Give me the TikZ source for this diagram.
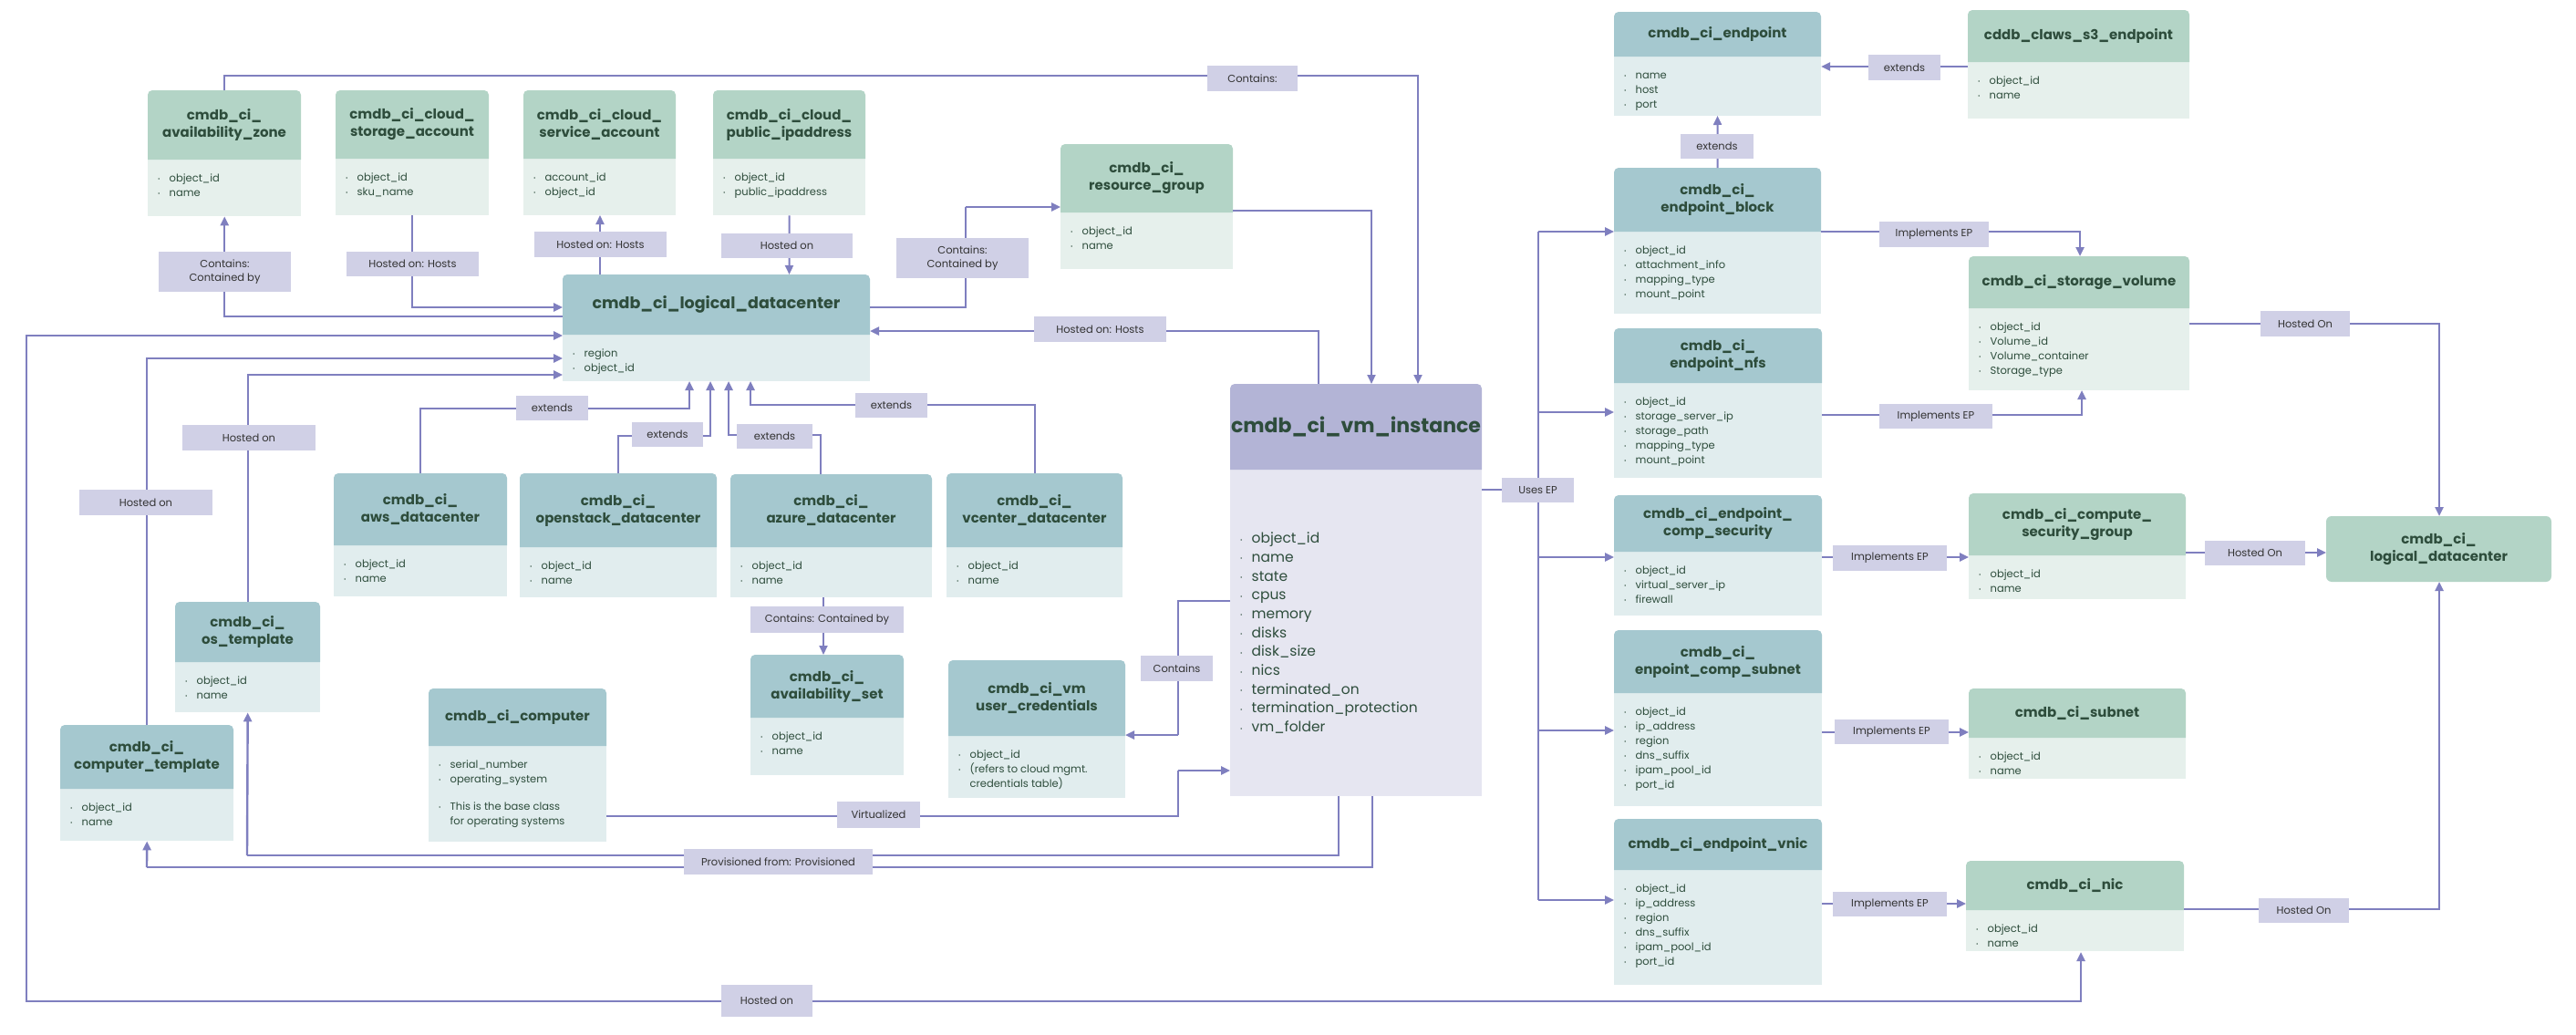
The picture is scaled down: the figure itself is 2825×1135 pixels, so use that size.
\documentclass[tikz,border=0pt]{standalone}
\usepackage{fontspec}
\setmainfont{Poppins}
\usetikzlibrary{arrows.meta}
\definecolor{lc}{HTML}{7F7FBF}
\definecolor{labc}{HTML}{D0D0E6}
\definecolor{tealh}{HTML}{A5C8CF}
\definecolor{tealb}{HTML}{E1EDEE}
\definecolor{greenh}{HTML}{B3D4C6}
\definecolor{greenb}{HTML}{E6F0EC}
\definecolor{vmh}{HTML}{B3B4D6}
\definecolor{vmb}{HTML}{E6E6F1}
\definecolor{txt}{HTML}{2E4D3C}
\tikzset{
 ttl/.style={font=\bfseries\fontsize{15}{19}\selectfont, text=txt, align=center, inner sep=0},
 itm/.style={font=\fontsize{11.5}{16}\selectfont, text=txt, inner sep=0},
 lt/.style={font=\fontsize{11.5}{15}\selectfont, text=black!80, align=center, inner sep=0},
 c/.style={draw=lc, line width=2.4pt},
 a/.style={c, -{Triangle[length=10pt,width=9pt]}},
 aa/.style={c, {Triangle[length=10pt,width=9pt]}-{Triangle[length=10pt,width=9pt]}}
}
\newcommand\bl{\raisebox{1.5pt}{\fontsize{6}{6}\selectfont\textbullet}}
\newcommand\li[1]{\bl & #1\\}
\newcommand\ent[9]{%
 \fill[#7b] (#2,#5) rectangle (#4,#6);
 \fill[#7h] (#2,#5) [rounded corners=5pt] -- (#2,#3) -- (#4,#3) [sharp corners] -- (#4,#5) -- cycle;
 \pgfmathsetmacro\ww{#4-#2}\pgfmathsetmacro\hh{#6-#3}
 \node[inner sep=0, minimum width=\ww pt, minimum height=\hh pt, anchor=north west] (#1) at (#2,#3) {};
 \node[ttl] at ({(#2+#4)/2},{(#3+#5)/2}) {#8};
 \node[itm, anchor=north west] at ({#2+11},{#5+13.5}) {\begin{tabular}{@{}l@{\hspace{10pt}}l@{}}#9\end{tabular}};
}
\newcommand\lab[6]{%
 \fill[labc] (#2,#3) rectangle (#4,#5);
 \node[lt] (#1) at ({(#2+#4)/2},{(#3+#5)/2}) {#6};
}
\begin{document}
\catcode`\_=12
\begin{tikzpicture}[x=1pt,y=-1pt]
\fill[white] (0,0) rectangle (2825,1135);
\useasboundingbox (0,0) rectangle (2825,1135);

% entities
\ent{az}{162}{99}{330}{175}{237}{green}{cmdb_ci_\\availability_zone}{\li{object_id}\li{name}}
\ent{sa}{368}{99}{536}{174}{236}{green}{cmdb_ci_cloud_\\storage_account}{\li{object_id}\li{sku_name}}
\ent{sva}{574}{99}{741}{174}{236}{green}{cmdb_ci_cloud_\\service_account}{\li{account_id}\li{object_id}}
\ent{pip}{782}{99}{949}{174}{236}{green}{cmdb_ci_cloud_\\public_ipaddress}{\li{object_id}\li{public_ipaddress}}
\ent{rg}{1163}{158}{1352}{233}{295}{green}{cmdb_ci_\\resource_group}{\li{object_id}\li{name}}
\ent{ldc}{617}{301}{954}{367}{418}{teal}{\fontsize{17.5}{21}\selectfont cmdb_ci_logical_datacenter}{\li{region}\li{object_id}}
\ent{aws}{366}{519}{556}{598}{654}{teal}{cmdb_ci_\\aws_datacenter}{\li{object_id}\li{name}}
\ent{osd}{570}{519}{786}{600}{655}{teal}{cmdb_ci_\\openstack_datacenter}{\li{object_id}\li{name}}
\ent{azr}{801}{520}{1022}{600}{655}{teal}{cmdb_ci_\\azure_datacenter}{\li{object_id}\li{name}}
\ent{vc}{1038}{519}{1231}{600}{655}{teal}{cmdb_ci_\\vcenter_datacenter}{\li{object_id}\li{name}}
\ent{ost}{192}{660}{351}{726}{781}{teal}{cmdb_ci_\\os_template}{\li{object_id}\li{name}}
\ent{ct}{66}{795}{256}{865}{922}{teal}{cmdb_ci_\\computer_template}{\li{object_id}\li{name}}
\ent{comp}{470}{755}{665}{818}{923}{teal}{cmdb_ci_computer}{\li{serial_number}\bl & operating_system\\[14pt]\li{This is the base class}& for operating systems\\}
\ent{avs}{823}{718}{991}{787}{850}{teal}{cmdb_ci_\\availability_set}{\li{object_id}\li{name}}
\ent{uc}{1040}{724}{1234}{807}{875}{teal}{cmdb_ci_vm\\user_credentials}{\li{object_id}\li{(refers to cloud mgmt.}& credentials table)\\}
\ent{vm}{1349}{421}{1625}{515}{873}{vm}{\fontsize{22}{26}\selectfont cmdb_ci_vm_instance}{}
\node[itm, font=\fontsize{15.5}{20.7}\selectfont, anchor=north west] at (1360,581) {\begin{tabular}{@{}l@{\hspace{10pt}}l@{}}\li{object_id}\li{name}\li{state}\li{cpus}\li{memory}\li{disks}\li{disk_size}\li{nics}\li{terminated_on}\li{termination_protection}\li{vm_folder}\end{tabular}};

\ent{ep}{1770}{13}{1997}{62}{127}{teal}{cmdb_ci_endpoint}{\li{name}\li{host}\li{port}}
\ent{s3}{2158}{11}{2401}{68}{130}{green}{cddb_claws_s3_endpoint}{\li{object_id}\li{name}}
\ent{eb}{1770}{184}{1997}{254}{344}{teal}{cmdb_ci_\\endpoint_block}{\li{object_id}\li{attachment_info}\li{mapping_type}\li{mount_point}}
\ent{nfs}{1770}{360}{1998}{420}{524}{teal}{cmdb_ci_\\endpoint_nfs}{\li{object_id}\li{storage_server_ip}\li{storage_path}\li{mapping_type}\li{mount_point}}
\ent{ecs}{1770}{543}{1998}{605}{675}{teal}{cmdb_ci_endpoint_\\comp_security}{\li{object_id}\li{virtual_server_ip}\li{firewall}}
\ent{esn}{1770}{691}{1998}{760}{884}{teal}{cmdb_ci_\\enpoint_comp_subnet}{\li{object_id}\li{ip_address}\li{region}\li{dns_suffix}\li{ipam_pool_id}\li{port_id}}
\ent{evn}{1770}{898}{1998}{954}{1080}{teal}{cmdb_ci_endpoint_vnic}{\li{object_id}\li{ip_address}\li{region}\li{dns_suffix}\li{ipam_pool_id}\li{port_id}}
\ent{sv}{2159}{281}{2401}{338}{428}{green}{cmdb_ci_storage_volume}{\li{object_id}\li{Volume_id}\li{Volume_container}\li{Storage_type}}
\ent{csg}{2159}{541}{2397}{609}{657}{green}{cmdb_ci_compute_\\security_group}{\li{object_id}\li{name}}
\ent{sn}{2159}{755}{2397}{809}{854}{green}{cmdb_ci_subnet}{\li{object_id}\li{name}}
\ent{nic}{2156}{944}{2395}{998}{1043}{green}{cmdb_ci_nic}{\li{object_id}\li{name}}
\fill[greenh, rounded corners=6pt] (2551,566) rectangle (2798,638);
\node[ttl] (ldc2) at (2674.5,602) {cmdb_ci_\\logical_datacenter};
\coordinate (ldc2n) at (2675,566);
\coordinate (ldc2s) at (2675,638);
\coordinate (ldc2w) at (2551,606);

% connectors
\draw[a, line width=2pt] (az.north) |- (1555,83) -- (1555,421);
\draw[a, line width=2pt] (1352,231) -| (1504,421);
\draw[a] (617,347) -| (az.south);
\draw[a] (sa.south) |- (617,337);
\draw[a, line width=2pt] (658,301) -- (658,236);
\draw[a, line width=2pt] (pip.south) -- (865.5,301);
\draw[c] (954,337) -| (1059,227);
\draw[a] (1059,227) -- (1163,227);
\draw[a] (1446,421) |- (954,363);
\draw[aa] (617,368) -| (29,1098) -| (2282,1044);
\draw[a] (ost.north) |- (617,411);
\draw[a] (ct.north) |- (617,393);
\draw[a] (aws.north) |- (756,448) -- (756,418);
\draw[a] (678,519) |- (779,478) -- (779,418);
\draw[a] (900,520) |- (799,477) -- (799,418);
\draw[a] (vc.north) |- (823,444) -- (823,418);
\draw[a, line width=2pt] (903,655) -- (903,718);
\draw[c] (1349,659) -| (1292,806);
\draw[a] (1292,806) -- (1234,806);
\draw[c] (665,895) -| (1292,845);
\draw[a] (1292,845) -- (1349,845);
\draw[c] (1468,873) |- (271,938);
\draw[a] (271,938) -- (ost.south);
\draw[c] (1505,873) |- (161,951);
\draw[a] (161,951) -- (ct.south);

\draw[a] (2158,73) -- (1997,73);
\draw[a, line width=2pt] (eb.north) -- (1883.5,127);
\draw[c] (1625,537) -- (1687,537);
\draw[c, line width=2pt] (1687,254) -- (1687,987);
\draw[a] (1687,254) -- (1770,254);
\draw[a] (1687,452) -- (1770,452);
\draw[a] (1687,611) -- (1770,611);
\draw[a] (1687,801) -- (1770,801);
\draw[a] (1687,987) -- (1770,987);
\draw[a] (1997,254) -| (2281,281);
\draw[a] (1998,455) -| (2283,428);
\draw[a] (1998,611) -- (2159,611);
\draw[a] (1998,803) -- (2159,803);
\draw[a] (1998,991) -- (2156,991);
\draw[a] (2401,355) -| (ldc2n);
\draw[a] (2397,606) -- (ldc2w);
\draw[a] (2395,997) -| (ldc2s);

% labels
\lab{l1}{1324}{72}{1423}{100}{Contains:}
\lab{l2}{174}{276}{319}{320}{Contains:\\Contained by}
\lab{l3}{380}{276}{525}{303}{Hosted on: Hosts}
\lab{l4}{586}{254}{731}{282}{Hosted on: Hosts}
\lab{l5}{791}{256}{935}{283}{Hosted on}
\lab{l6}{983}{261}{1128}{305}{Contains:\\Contained by}
\lab{l7}{1134}{347}{1279}{375}{Hosted on: Hosts}
\lab{l8}{200}{466}{346}{494}{Hosted on}
\lab{l9}{87}{537}{233}{565}{Hosted on}
\lab{l10}{566}{434}{645}{461}{extends}
\lab{l11}{693}{463}{771}{490}{extends}
\lab{l12}{808}{465}{891}{492}{extends}
\lab{l13}{938}{431}{1017}{458}{extends}
\lab{l14}{823}{665}{991}{694}{Contains: Contained by}
\lab{l15}{1251}{719}{1330}{747}{Contains}
\lab{l16}{918}{879}{1009}{908}{Virtualized}
\lab{l17}{750}{931}{957}{959}{Provisioned from: Provisioned}
\lab{l18}{791}{1080}{891}{1115}{Hosted on}
\lab{l19}{2049}{60}{2128}{88}{extends}
\lab{l20}{1843}{147}{1923}{174}{extends}
\lab{l21}{1647}{524}{1726}{551}{Uses EP}
\lab{l22}{2061}{243}{2181}{271}{Implements EP}
\lab{l23}{2061}{443}{2185}{470}{Implements EP}
\lab{l24}{2010}{598}{2135}{626}{Implements EP}
\lab{l25}{2012}{789}{2137}{816}{Implements EP}
\lab{l26}{2010}{978}{2135}{1005}{Implements EP}
\lab{l27}{2479}{341}{2577}{369}{Hosted On}
\lab{l28}{2418}{593}{2528}{620}{Hosted On}
\lab{l29}{2477}{985}{2576}{1012}{Hosted On}
\end{tikzpicture}
\end{document}
